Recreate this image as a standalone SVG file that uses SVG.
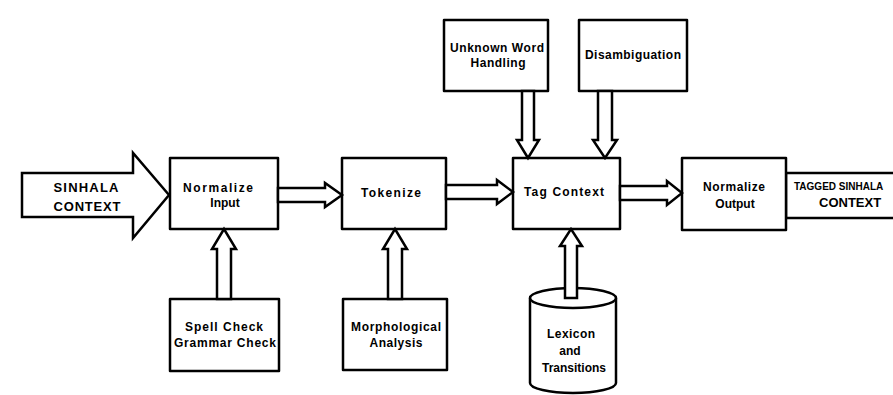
<svg xmlns="http://www.w3.org/2000/svg" width="893" height="395" viewBox="0 0 893 395">
<style>
.box{fill:#fff;stroke:#000;stroke-width:2.5;stroke-linejoin:round}
.arr{fill:#fff;stroke:#000;stroke-width:2.5;stroke-linejoin:miter}
.t{font-family:"Liberation Sans",Arial,sans-serif;font-size:12px;font-weight:bold;fill:#000;text-anchor:middle}
.big{font-size:13px}
</style>
<rect width="893" height="395" fill="#fff"/>
<g id="input-arrow">
<polygon class="arr" points="22,173 133,173 133,153 169,195 133,238 133,217 22,217"/>
<text class="t big" x="86" y="192" textLength="65" lengthAdjust="spacing">SINHALA</text>
<text class="t big" x="87" y="211" textLength="67" lengthAdjust="spacing">CONTEXT</text>
</g>
<g id="output-arrow">
<polyline class="arr" points="900,173 786,173 786,218 900,218"/>
<text class="t" x="794" y="190" style="text-anchor:start;font-size:10px">TAGGED SINHALA</text>
<text class="t big" x="819" y="207" style="text-anchor:start">CONTEXT</text>
</g>
<g id="normalize-input">
<rect class="box" x="170" y="158" width="108" height="71"/>
<text class="t" x="218" y="192" textLength="70" lengthAdjust="spacing">Normalize</text>
<text class="t" x="225" y="207">Input</text>
</g>
<g id="tokenize">
<rect class="box" x="342" y="158" width="104" height="71"/>
<text class="t" x="391" y="197" textLength="60" lengthAdjust="spacing">Tokenize</text>
</g>
<g id="tag-context">
<rect class="box" x="513" y="158" width="107" height="71"/>
<text class="t" x="564" y="196" textLength="80" lengthAdjust="spacing">Tag Context</text>
</g>
<g id="normalize-output">
<rect class="box" x="682" y="158" width="104" height="72"/>
<text class="t" x="734" y="191" textLength="62" lengthAdjust="spacing">Normalize</text>
<text class="t" x="735" y="208">Output</text>
</g>
<g id="unknown-word">
<rect class="box" x="444" y="20" width="104" height="71"/>
<text class="t" x="497" y="52" textLength="94" lengthAdjust="spacing">Unknown Word</text>
<text class="t" x="498" y="67" textLength="55" lengthAdjust="spacing">Handling</text>
</g>
<g id="disambiguation">
<rect class="box" x="579" y="20" width="108" height="71"/>
<text class="t" x="633" y="59" textLength="96" lengthAdjust="spacing">Disambiguation</text>
</g>
<g id="spell-check">
<rect class="box" x="170" y="299" width="109" height="72"/>
<text class="t" x="224" y="331" textLength="78" lengthAdjust="spacing">Spell Check</text>
<text class="t" x="225" y="347" textLength="102" lengthAdjust="spacing">Grammar Check</text>
</g>
<g id="morphological">
<rect class="box" x="343" y="299" width="104" height="71"/>
<text class="t" x="396" y="331" textLength="90" lengthAdjust="spacing">Morphological</text>
<text class="t" x="396" y="347" textLength="53" lengthAdjust="spacing">Analysis</text>
</g>
<g id="lexicon">
<path class="box" d="M530,298 L530,383 A43,10 0 0 0 616,383 L616,298"/>
<ellipse class="box" cx="573" cy="298" rx="43" ry="10"/>
<text class="t" x="571" y="338" textLength="48" lengthAdjust="spacing">Lexicon</text>
<text class="t" x="570" y="355">and</text>
<text class="t" x="574" y="372" textLength="64" lengthAdjust="spacing">Transitions</text>
</g>
<g id="connectors">
<polygon class="arr" points="278,188 325,188 325,183 342,195 325,207 325,202 278,202"/>
<polygon class="arr" points="446,185 497,185 497,180 513,192 497,204 497,199 446,199"/>
<polygon class="arr" points="620,186 667,186 667,181 682,193 667,205 667,200 620,200"/>
<polygon class="arr" points="217,299 217,249 212,249 224,229 236,249 231,249 231,299"/>
<polygon class="arr" points="388,299 388,249 383,249 395,229 407,249 402,249 402,299"/>
<polygon class="arr" points="565,298 565,246 560,246 571,229 582,246 577,246 577,298"/>
<polygon class="arr" points="522,91 522,140 517,140 528,158 539,140 534,140 534,91"/>
<polygon class="arr" points="598,91 598,140 593,140 605,158 617,140 612,140 612,91"/>
</g>
</svg>
